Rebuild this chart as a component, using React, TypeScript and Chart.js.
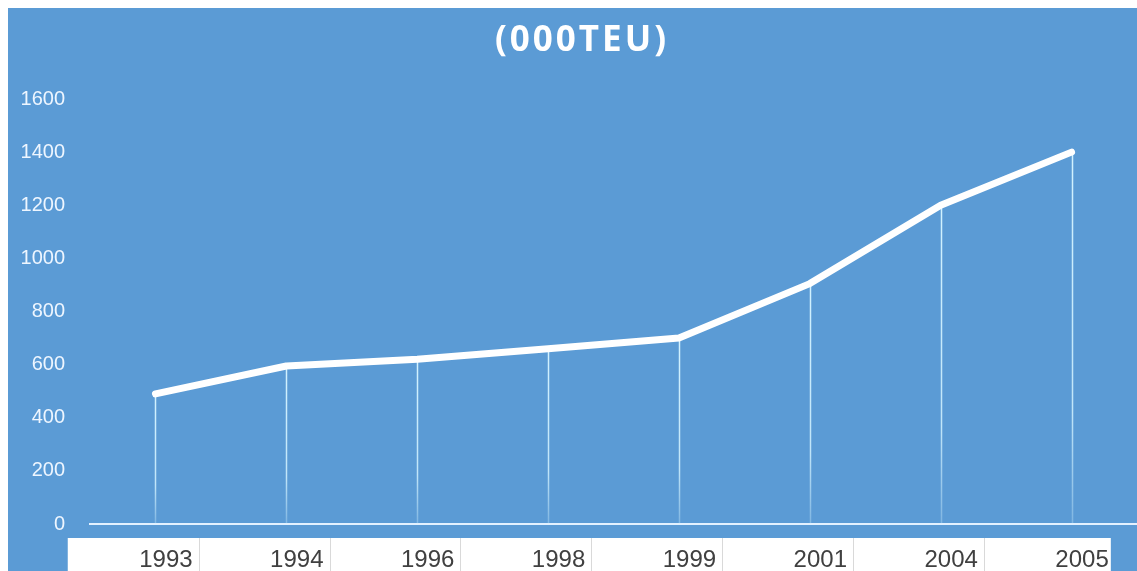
import React, { useEffect, useRef } from "react";
import { Chart, registerables } from "chart.js";

Chart.register(...registerables);

const categories: string[] = ["1993", "1994", "1996", "1998", "1999", "2001", "2004", "2005"];
const throughput: number[] = [490, 595, 620, 660, 700, 905, 1200, 1400];
const yMin = 0;
const yMax = 1600;
const yStep = 200;
const chartTitle = "(000TEU)";

const BG = "#5b9bd5";
const W = 1129;
const H = 563;

const backgroundPlugin = {
  id: "bgFill",
  beforeDraw(chart: any) {
    const { ctx } = chart;
    ctx.save();
    ctx.fillStyle = BG;
    ctx.fillRect(0, 0, chart.width, chart.height);
    ctx.restore();
  },
};

const dropLinesPlugin = {
  id: "dropLines",
  beforeDatasetsDraw(chart: any) {
    const { ctx, chartArea } = chart;
    const meta = chart.getDatasetMeta(0);
    ctx.save();
    meta.data.forEach((pt: any) => {
      const g = ctx.createLinearGradient(0, pt.y, 0, chartArea.bottom);
      g.addColorStop(0, "rgba(210,242,255,1)");
      g.addColorStop(0.7, "rgba(210,242,255,0.85)");
      g.addColorStop(1, "rgba(210,242,255,0.3)");
      ctx.strokeStyle = g;
      ctx.lineWidth = 1.5;
      ctx.beginPath();
      ctx.moveTo(Math.round(pt.x) + 0.5, pt.y);
      ctx.lineTo(Math.round(pt.x) + 0.5, chartArea.bottom);
      ctx.stroke();
    });
    ctx.restore();
  },
};

const tablePlugin = {
  id: "dataTable",
  afterDraw(chart: any) {
    const { ctx } = chart;
    const xs = chart.scales.x;
    const c0 = xs.getPixelForValue(0);
    const w = xs.getPixelForValue(1) - c0;
    const n = categories.length;
    const top = 530;
    const bottom = H;
    const left = c0 - 0.67 * w;
    const right = xs.getPixelForValue(n - 1) + 0.3 * w;
    ctx.save();
    ctx.fillStyle = "#ffffff";
    ctx.fillRect(left, top, right - left, bottom - top);
    ctx.strokeStyle = "#d9d9d9";
    ctx.lineWidth = 1;
    for (let i = 0; i < n - 1; i++) {
      const bx = Math.round(xs.getPixelForValue(i) + 0.33 * w) + 0.5;
      ctx.beginPath();
      ctx.moveTo(bx, top);
      ctx.lineTo(bx, bottom);
      ctx.stroke();
    }
    ctx.fillStyle = "#404040";
    ctx.font = '24px "Liberation Sans"';
    ctx.textAlign = "right";
    ctx.textBaseline = "alphabetic";
    categories.forEach((c, i) => {
      const bx = xs.getPixelForValue(i) + 0.33 * w;
      ctx.fillText(c, bx - 6, 559);
    });
    ctx.restore();
  },
};

const titlePlugin = {
  id: "customTitle",
  afterDraw(chart: any) {
    const { ctx } = chart;
    ctx.save();
    ctx.fillStyle = "#ffffff";
    ctx.font = 'bold 35px "Open Sans"';
    try {
      (ctx as any).letterSpacing = "3px";
    } catch (e) {}
    ctx.textAlign = "center";
    ctx.textBaseline = "alphabetic";
    ctx.fillText(chartTitle, 574, 43);
    ctx.restore();
  },
};

export default function App() {
  const ref = useRef<HTMLCanvasElement | null>(null);

  useEffect(() => {
    document.documentElement.style.overflow = "hidden";
    const canvas = ref.current;
    if (!canvas) return;
    const chart = new Chart(canvas, {
      type: "line",
      data: {
        labels: categories,
        datasets: [
          {
            data: throughput,
            borderColor: "#ffffff",
            borderWidth: 7,
            borderCapStyle: "round",
            borderJoinStyle: "round",
            pointRadius: 0,
            pointHoverRadius: 0,
            tension: 0,
            fill: false,
          },
        ],
      },
      options: {
        responsive: false,
        animation: false,
        devicePixelRatio: 1,
        layout: { padding: { top: 91, left: 0, right: 0, bottom: 0 } },
        plugins: {
          legend: { display: false },
          title: { display: false },
          tooltip: { enabled: false },
        },
        scales: {
          x: {
            type: "category",
            offset: true,
            grid: { display: false, drawTicks: false },
            ticks: { display: false },
            border: { display: true, color: "#e3f1ff", width: 2 },
            afterFit: (s: any) => {
              s.height = 47;
            },
          },
          y: {
            min: yMin,
            max: yMax,
            ticks: {
              stepSize: yStep,
              color: "#eef6ff",
              font: { family: '"Liberation Sans"', size: 20 },
              padding: 25,
              callback: (v: any) => String(v),
            },
            grid: { display: false, drawTicks: false },
            border: { display: false },
            afterFit: (s: any) => {
              s.width = 82;
            },
          },
        },
      },
      plugins: [backgroundPlugin, dropLinesPlugin, tablePlugin, titlePlugin],
    });
    return () => chart.destroy();
  }, []);

  return (
    <canvas
      ref={ref}
      width={W}
      height={H}
      style={{ position: "fixed", left: 8, top: 8, width: W, height: H, display: "block" }}
    />
  );
}
